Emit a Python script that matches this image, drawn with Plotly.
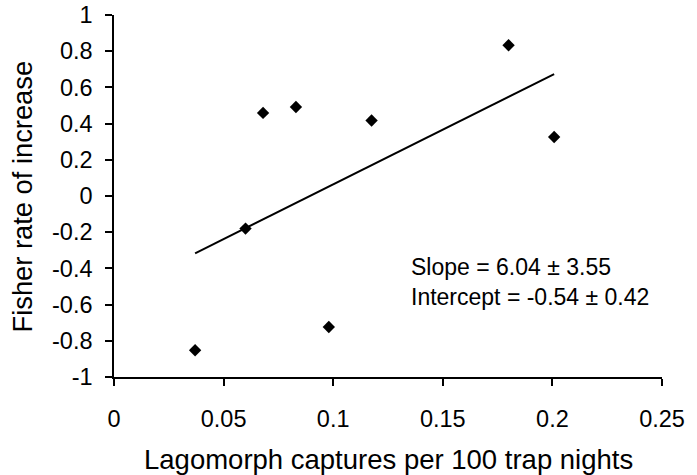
import plotly.graph_objects as go

# Data
captures = [0.037, 0.060, 0.068, 0.083, 0.098, 0.1175, 0.180, 0.2008]
fisher_rate = [-0.852, -0.180, 0.459, 0.492, -0.724, 0.417, 0.833, 0.326]
slope = 6.04
intercept = -0.54
x_ticks = [0, 0.05, 0.1, 0.15, 0.2, 0.25]
x_tick_labels = ["0", "0.05", "0.1", "0.15", "0.2", "0.25"]
y_ticks = [1, 0.8, 0.6, 0.4, 0.2, 0, -0.2, -0.4, -0.6, -0.8, -1]
y_tick_labels = ["1", "0.8", "0.6", "0.4", "0.2", "0", "-0.2", "-0.4", "-0.6", "-0.8", "-1"]

FONT = "Liberation Sans, Arial, sans-serif"

line_x = [min(captures), max(captures)]
line_y = [intercept + slope * v for v in line_x]

fig = go.Figure()
fig.add_trace(go.Scatter(x=line_x, y=line_y, mode="lines",
                         line=dict(color="black", width=2), showlegend=False))
fig.add_trace(go.Scatter(x=captures, y=fisher_rate, mode="markers",
                         marker=dict(symbol="diamond", size=9.5, color="black"),
                         showlegend=False))

axis_common = dict(showgrid=False, zeroline=False, showline=True, linecolor="black",
                   linewidth=1.5, ticks="outside", ticklen=7, tickwidth=1.5,
                   tickcolor="black", automargin=False,
                   tickfont=dict(family=FONT, size=23.5, color="black"))

fig.update_xaxes(range=[0, 0.25], tickvals=x_ticks, ticktext=x_tick_labels,
                 ticklabelstandoff=13, **axis_common)
fig.update_yaxes(range=[-1, 1], tickvals=y_ticks, ticktext=y_tick_labels,
                 ticklabelstandoff=8, **axis_common)

fig.add_annotation(text="Lagomorph captures per 100 trap nights", xref="paper", yref="paper",
                   x=0.501, y=-0.227, xanchor="center", yanchor="middle", showarrow=False,
                   font=dict(family=FONT, size=27.5, color="black"))
fig.add_annotation(text="Fisher rate of increase", xref="paper", yref="paper",
                   x=-0.167, y=0.5, xanchor="center", yanchor="middle", textangle=-90,
                   showarrow=False, font=dict(family=FONT, size=27.3, color="black"))
fig.add_annotation(text="Slope = 6.04 ± 3.55<br>Intercept = -0.54 ± 0.42", xref="x", yref="y",
                   x=0.1346, y=-0.477, xanchor="left", yanchor="middle", align="left",
                   showarrow=False, font=dict(family=FONT, size=23, color="black"))

fig.update_layout(width=697, height=475, margin=dict(l=114, r=35, t=15, b=98),
                  plot_bgcolor="white", paper_bgcolor="white")

fig.write_html("out.html", config={"displayModeBar": False},
               post_script="document.body.style.margin='0';document.body.style.overflow='hidden';")
